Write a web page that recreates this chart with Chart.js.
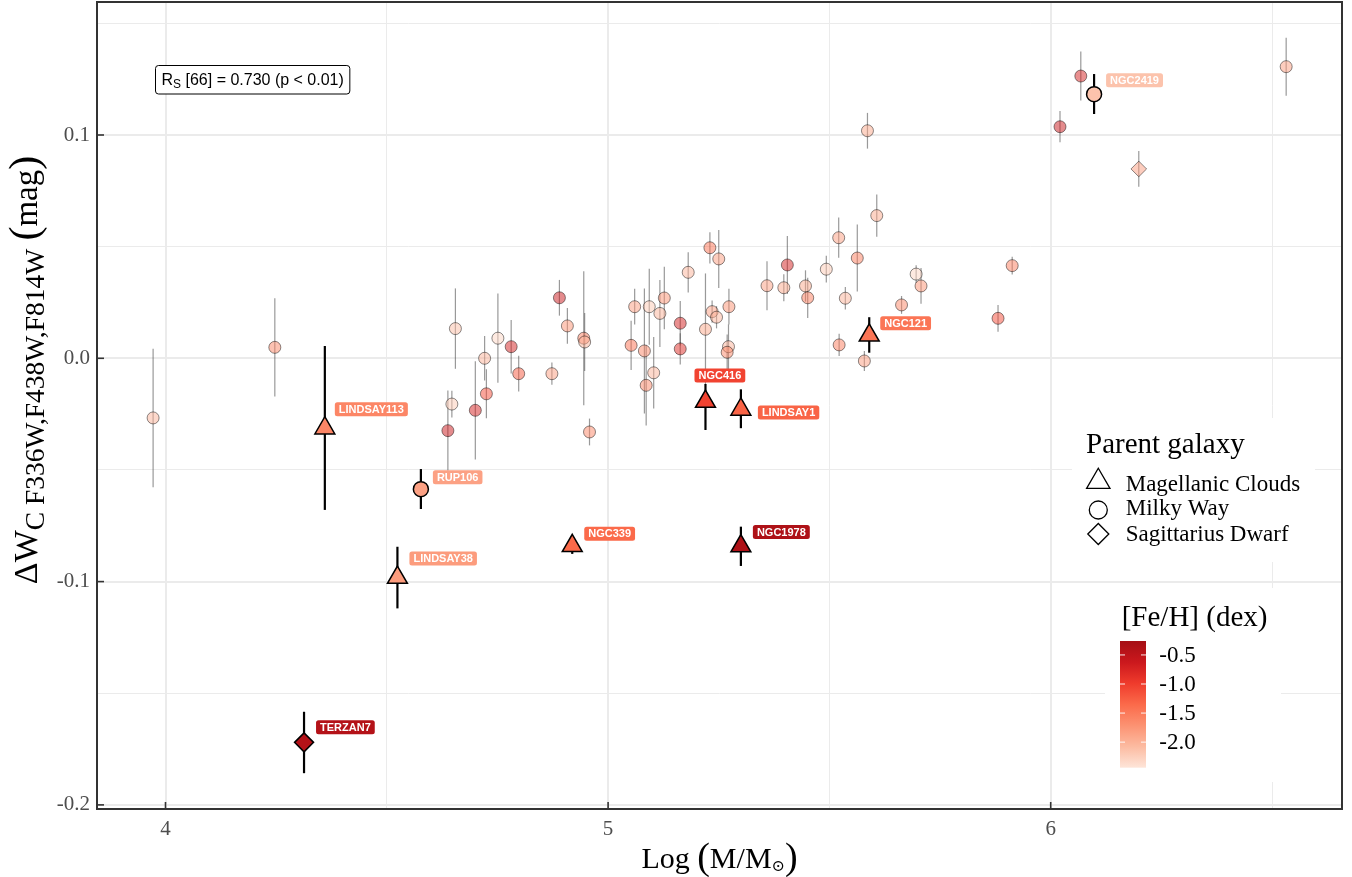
<!DOCTYPE html>
<html>
<head>
<meta charset="utf-8">
<script src="https://cdn.jsdelivr.net/npm/chart.js@4.4.1/dist/chart.umd.min.js"></script>
<style>
  html, body { margin: 0; padding: 0; background: #fff; }
  #wrap { width: 1352px; height: 877px; }
</style>
</head>
<body>
<div id="wrap"><canvas id="chart" width="1352" height="877"></canvas></div>
<script>
// Milky Way clusters (background points)
const mwMass = [3.972, 4.247, 4.655, 4.751, 4.781, 4.721, 4.798, 4.647, 4.638, 4.700,
                4.725, 4.873, 4.890, 4.908, 4.945, 4.947, 4.958, 5.052, 5.060, 5.082,
                5.086, 5.093, 5.103, 5.117, 5.127, 5.163, 5.163, 5.181, 5.220, 5.230,
                5.250, 5.235, 5.245, 5.273, 5.272, 5.269, 5.359, 5.397, 5.405, 5.446,
                5.451, 5.493, 5.521, 5.536, 5.563, 5.522, 5.579, 5.607, 5.586, 5.663,
                5.707, 5.696, 5.881, 5.913, 6.021, 6.068, 6.532];
const mwDW = [-0.0267, 0.0049, 0.0133, 0.0090, 0.0052, 0.0000, -0.0069, -0.0205, -0.0324, -0.0233,
              -0.0159, -0.0069, 0.0271, 0.0145, 0.0090, 0.0073, -0.0330, 0.0058, 0.0231, 0.0033,
              -0.0121, 0.0231, -0.0065, 0.0201, 0.0270, 0.0157, 0.0042, 0.0385, 0.0130, 0.0495,
              0.0445, 0.0209, 0.0184, 0.0231, 0.0052, 0.0027, 0.0325, 0.0316, 0.0418, 0.0324,
              0.0271, 0.0399, 0.0540, 0.0269, 0.0449, 0.0060, -0.0012, 0.0639, 0.1019, 0.0239,
              0.0324, 0.0377, 0.0179, 0.0415, 0.1037, 0.1264, 0.1306];
const mwErr = [0.031, 0.022, 0.018, 0.020, 0.012, 0.010, 0.008, 0.006, 0.018, 0.022,
               0.011, 0.005, 0.008, 0.008, 0.030, 0.013, 0.006, 0.011, 0.008, 0.028,
               0.018, 0.017, 0.016, 0.015, 0.014, 0.010, 0.007, 0.009, 0.025, 0.007,
               0.013, 0.005, 0.005, 0.008, 0.010, 0.008, 0.011, 0.006, 0.013, 0.007,
               0.009, 0.006, 0.009, 0.005, 0.015, 0.005, 0.0045, 0.0095, 0.008, 0.004,
               0.008, 0.004, 0.006, 0.004, 0.007, 0.011, 0.013];
const mwFeH = [-2.0, -1.6, -2.1, -2.3, -0.7, -2.0, -1.2, -2.2, -0.6, -0.7,
               -1.1, -1.8, -0.6, -1.7, -1.5, -2.0, -1.6, -1.4, -1.8, -1.6,
               -1.6, -2.2, -2.0, -2.0, -1.7, -0.7, -0.8, -2.0, -1.9, -1.4,
               -1.8, -1.8, -2.0, -1.7, -2.0, -1.6, -1.8, -1.9, -0.7, -1.9,
               -1.5, -2.2, -1.8, -2.0, -1.5, -1.5, -1.8, -1.9, -1.9, -1.6,
               -1.7, -2.3, -1.1, -1.5, -0.6, -0.7, -1.8];

// Sagittarius dwarf cluster (background)
const sgrMass = [6.199];
const sgrDW = [0.0848];
const sgrErr = [0.008];
const sgrFeH = [-1.8];

// labelled clusters
const hlNames = ['LINDSAY113', 'RUP106', 'LINDSAY38', 'TERZAN7', 'NGC339', 'NGC416', 'LINDSAY1', 'NGC1978', 'NGC121', 'NGC2419'];
const hlGalaxy = ['Magellanic Clouds', 'Milky Way', 'Magellanic Clouds', 'Sagittarius Dwarf', 'Magellanic Clouds',
                  'Magellanic Clouds', 'Magellanic Clouds', 'Magellanic Clouds', 'Magellanic Clouds', 'Milky Way'];
const hlMass = [4.360, 4.577, 4.524, 4.313, 4.919, 5.220, 5.300, 5.300, 5.590, 6.098];
const hlDW = [-0.0313, -0.0586, -0.0982, -0.1720, -0.0840, -0.0194, -0.0229, -0.0841, 0.0103, 0.1183];
const hlUpper = [0.0055, -0.0496, -0.0844, -0.1583, -0.0810, -0.0115, -0.0139, -0.0754, 0.0184, 0.1273];
const hlLower = [-0.0679, -0.0675, -0.1120, -0.1858, -0.0876, -0.0321, -0.0313, -0.0930, 0.0025, 0.1094];
const hlFeH = [-1.6, -1.85, -1.8, -0.4, -1.35, -1.05, -1.3, -0.35, -1.45, -2.15];

const galaxies = ['Magellanic Clouds', 'Milky Way', 'Sagittarius Dwarf'];
const feTicks = [-0.5, -1.0, -1.5, -2.0];
const feLimits = [-2.44, -0.26];

// ---- styling helpers ----
const SERIF = '"Liberation Serif", "DejaVu Serif", serif';
const SANS = '"Liberation Sans", Arial, sans-serif';
const REDS = [[254,229,217],[252,187,161],[252,146,114],[251,106,74],[239,59,44],[203,24,29],[165,15,21]];
const shapeOf = { 'Magellanic Clouds': 'triangle', 'Milky Way': 'circle', 'Sagittarius Dwarf': 'rectRot' };
const hlSize = { triangle: 11.5, circle: 7.5, rectRot: 9.5 };
const bgSize = { circle: 6, rectRot: 7.8 };
const labelOffsets = [[10,-19],[12,-12],[12,-19],[12,-15],[12,-12],[-11,-26],[17,3],[12,-14],[11,-12],[12,-14]];

function feColor(v, a) {
  let t = (v - feLimits[0]) / (feLimits[1] - feLimits[0]);
  t = Math.max(0, Math.min(1, t));
  const p = t * (REDS.length - 1);
  const i = Math.min(Math.floor(p), REDS.length - 2);
  const f = p - i;
  const c = REDS[i].map((c0, k) => Math.round(c0 + (REDS[i + 1][k] - c0) * f));
  return a === undefined ? `rgb(${c.join(',')})` : `rgba(${c.join(',')},${a})`;
}

const bgMass = mwMass.concat(sgrMass);
const bgDW = mwDW.concat(sgrDW);
const bgErr = mwErr.concat(sgrErr);
const bgFeH = mwFeH.concat(sgrFeH);
const bgShape = mwMass.map(() => 'circle').concat(sgrMass.map(() => 'rectRot'));
const hlShape = hlGalaxy.map(g => shapeOf[g]);

// error bars under the points
const errorBars = {
  id: 'errorBars',
  beforeDatasetsDraw(chart) {
    const { ctx, chartArea: a, scales: { x, y } } = chart;
    ctx.save();
    ctx.beginPath();
    ctx.rect(a.left, a.top, a.right - a.left, a.bottom - a.top);
    ctx.clip();
    ctx.strokeStyle = 'rgba(70,70,70,0.55)';
    ctx.lineWidth = 1.2;
    bgMass.forEach((m, i) => {
      const px = x.getPixelForValue(m);
      ctx.beginPath();
      ctx.moveTo(px, y.getPixelForValue(bgDW[i] + bgErr[i]));
      ctx.lineTo(px, y.getPixelForValue(bgDW[i] - bgErr[i]));
      ctx.stroke();
    });
    ctx.strokeStyle = '#000';
    ctx.lineWidth = 2.2;
    hlMass.forEach((m, i) => {
      const px = x.getPixelForValue(m);
      ctx.beginPath();
      ctx.moveTo(px, y.getPixelForValue(hlUpper[i]));
      ctx.lineTo(px, y.getPixelForValue(hlLower[i]));
      ctx.stroke();
    });
    ctx.restore();
  }
};

// name labels for highlighted clusters
const nameLabels = {
  id: 'nameLabels',
  afterDatasetsDraw(chart) {
    const { ctx, scales: { x, y } } = chart;
    ctx.save();
    ctx.font = 'bold 11px ' + SANS;
    ctx.textBaseline = 'middle';
    ctx.textAlign = 'left';
    hlNames.forEach((name, i) => {
      const px = x.getPixelForValue(hlMass[i]);
      const py = y.getPixelForValue(hlDW[i]);
      const w = ctx.measureText(name).width + 8;
      const h = 14;
      const left = px + labelOffsets[i][0];
      const cy = py + labelOffsets[i][1];
      ctx.fillStyle = feColor(hlFeH[i]);
      ctx.beginPath();
      ctx.roundRect(left, cy - h / 2, w, h, 2.5);
      ctx.fill();
      ctx.fillStyle = '#fff';
      ctx.fillText(name, left + 4, cy + 0.5);
    });
    ctx.restore();
  }
};

function drawParts(ctx, parts, cx, baseY) {
  let total = 0;
  const widths = parts.map(p => { ctx.font = p[1]; const w = ctx.measureText(p[0]).width; total += w; return w; });
  let cur = cx - total / 2;
  ctx.fillStyle = '#000';
  ctx.textAlign = 'left';
  ctx.textBaseline = 'alphabetic';
  parts.forEach((p, i) => {
    ctx.font = p[1];
    ctx.fillText(p[0], cur, baseY + p[2]);
    cur += widths[i];
  });
}

// panel border, inner ticks, legends, titles, annotation
const decorations = {
  id: 'decorations',
  afterDraw(chart) {
    const { ctx, chartArea: a, scales: { x, y } } = chart;
    ctx.save();

    // legend: parent galaxy
    ctx.fillStyle = '#fff';
    ctx.fillRect(1072, 418, 243, 144);
    ctx.fillRect(1105, 588, 176, 194);
    ctx.fillStyle = '#000';
    ctx.textAlign = 'left';
    ctx.textBaseline = 'alphabetic';
    ctx.font = '29px ' + SERIF;
    ctx.fillText('Parent galaxy', 1086, 453);
    const legY = [481.7, 510, 534];
    const legBase = [490.7, 515, 540.7];
    const legR = { triangle: 13.5, circle: 9, rectRot: 10.5 };
    ctx.font = '23px ' + SERIF;
    galaxies.forEach((g, i) => {
      ctx.fillStyle = '#fff';
      ctx.strokeStyle = '#000';
      ctx.lineWidth = 1.3;
      Chart.helpers.drawPoint(ctx, { pointStyle: shapeOf[g], radius: legR[shapeOf[g]], rotation: 0, borderWidth: 1.3 }, 1098.3, legY[i]);
      ctx.fillStyle = '#000';
      ctx.fillText(g, 1125.7, legBase[i]);
    });

    // legend: [Fe/H] colour bar
    ctx.font = '29px ' + SERIF;
    ctx.fillText('[Fe/H] (dex)', 1121.7, 625.7);
    const barL = 1120, barR = 1146, barT = 641, barB = 767.7;
    const grad = ctx.createLinearGradient(0, barB, 0, barT);
    REDS.forEach((c, k) => grad.addColorStop(k / (REDS.length - 1), `rgb(${c.join(',')})`));
    ctx.fillStyle = grad;
    ctx.fillRect(barL, barT, barR - barL, barB - barT);
    ctx.strokeStyle = 'rgba(255,255,255,0.9)';
    ctx.lineWidth = 1;
    ctx.font = '23px ' + SERIF;
    ctx.textBaseline = 'middle';
    feTicks.forEach(v => {
      const ty = barB - (v - feLimits[0]) / (feLimits[1] - feLimits[0]) * (barB - barT);
      ctx.beginPath();
      ctx.moveTo(barL, ty); ctx.lineTo(barL + 5, ty);
      ctx.moveTo(barR - 5, ty); ctx.lineTo(barR, ty);
      ctx.stroke();
      ctx.fillStyle = '#000';
      ctx.fillText(v.toFixed(1), 1159.3, ty + 1);
    });

    // correlation annotation
    ctx.textBaseline = 'alphabetic';
    ctx.font = '16px ' + SANS;
    const rest = ' [66] = 0.730 (p < 0.01)';
    const wR = ctx.measureText('R').width;
    const wRest = ctx.measureText(rest).width;
    ctx.font = '12px ' + SANS;
    const wS = ctx.measureText('S').width;
    const boxW = wR + wS + wRest + 12;
    ctx.fillStyle = '#fff';
    ctx.strokeStyle = '#000';
    ctx.lineWidth = 1;
    ctx.beginPath();
    ctx.roundRect(155.5, 65.5, boxW, 28.5, 3);
    ctx.fill();
    ctx.stroke();
    ctx.fillStyle = '#000';
    ctx.font = '16px ' + SANS;
    ctx.fillText('R', 161.5, 85);
    ctx.font = '12px ' + SANS;
    ctx.fillText('S', 161.5 + wR, 88);
    ctx.font = '16px ' + SANS;
    ctx.fillText(rest, 161.5 + wR + wS, 85);

    // x axis title: Log (M/M⊙)
    const xParts = [
      ['Log ', '30px ' + SERIF, 0],
      ['(', '38px ' + SERIF, 1],
      ['M/M', '30px ' + SERIF, 0],
      ['\u2299', '16px ' + SERIF, 3],
      [')', '38px ' + SERIF, 1]
    ];
    drawParts(ctx, xParts, (a.left + a.right) / 2, 868);

    // y axis title: ΔW_C F336W,F438W,F814W (mag)
    ctx.save();
    ctx.translate(37, 370);
    ctx.rotate(-Math.PI / 2);
    const yParts = [
      ['\u0394W', '34px ' + SERIF, 0],
      ['C F336W,F438W,F814W', '27.5px ' + SERIF, 7],
      [' ', '33px ' + SERIF, 0],
      ['(', '42px ' + SERIF, 1],
      ['mag', '33px ' + SERIF, 0],
      [')', '42px ' + SERIF, 1]
    ];
    drawParts(ctx, yParts, 0, 0);
    ctx.restore();

    // inner tick marks
    ctx.strokeStyle = '#333';
    ctx.lineWidth = 1.6;
    x.ticks.forEach(t => {
      if (Math.abs(t.value - Math.round(t.value)) > 1e-6) return;
      const px = x.getPixelForValue(t.value);
      ctx.beginPath(); ctx.moveTo(px, a.bottom); ctx.lineTo(px, a.bottom - 7); ctx.stroke();
    });
    y.ticks.forEach(t => {
      if (Math.abs(t.value * 10 - Math.round(t.value * 10)) > 1e-6) return;
      const py = y.getPixelForValue(t.value);
      ctx.beginPath(); ctx.moveTo(a.left, py); ctx.lineTo(a.left + 7, py); ctx.stroke();
    });

    // panel border
    ctx.lineWidth = 2;
    ctx.strokeRect(a.left, a.top, a.right - a.left, a.bottom - a.top);
    ctx.restore();
  }
};

const isMajorX = v => Math.abs(v - Math.round(v)) < 1e-6;
const isMajorY = v => Math.abs(v * 10 - Math.round(v * 10)) < 1e-6;

new Chart(document.getElementById('chart'), {
  type: 'scatter',
  data: {
    datasets: [
      {
        label: 'highlighted',
        data: hlMass.map((m, i) => ({ x: m, y: hlDW[i] })),
        pointStyle: hlShape,
        pointRadius: hlShape.map(s => hlSize[s]),
        backgroundColor: hlFeH.map(v => feColor(v)),
        borderColor: '#000',
        borderWidth: 1.5,
        order: 0
      },
      {
        label: 'clusters',
        data: bgMass.map((m, i) => ({ x: m, y: bgDW[i] })),
        pointStyle: bgShape,
        pointRadius: bgShape.map(s => bgSize[s]),
        backgroundColor: bgFeH.map(v => feColor(v, 0.5)),
        borderColor: 'rgba(0,0,0,0.45)',
        borderWidth: 1,
        order: 1
      }
    ]
  },
  options: {
    responsive: false,
    animation: false,
    devicePixelRatio: 1,
    layout: { autoPadding: false, padding: { top: 2, right: 10, left: 0, bottom: 0 } },
    plugins: { legend: { display: false }, tooltip: { enabled: false } },
    scales: {
      x: {
        type: 'linear',
        min: 3.84523,
        max: 6.65815,
        afterFit: s => { s.height = 68; s.paddingLeft = 0; s.paddingRight = 0; },
        border: { display: false },
        grid: {
          color: '#ebebeb',
          lineWidth: c => (c.tick && isMajorX(c.tick.value)) ? 2 : 1,
          drawTicks: false
        },
        ticks: {
          stepSize: 0.5,
          includeBounds: false,
          autoSkip: false,
          maxRotation: 0,
          padding: 8,
          color: '#4d4d4d',
          font: { family: SERIF, size: 21 },
          callback: v => isMajorX(v) ? String(Math.round(v)) : ''
        }
      },
      y: {
        type: 'linear',
        min: -0.20184,
        max: 0.15956,
        afterFit: s => { s.width = 97; s.paddingTop = 0; s.paddingBottom = 0; },
        border: { display: false },
        grid: {
          color: '#ebebeb',
          lineWidth: c => (c.tick && isMajorY(c.tick.value)) ? 2 : 1,
          drawTicks: false
        },
        ticks: {
          stepSize: 0.05,
          includeBounds: false,
          autoSkip: false,
          padding: 7,
          color: '#4d4d4d',
          font: { family: SERIF, size: 21 },
          callback: v => isMajorY(v) ? (Math.round(v * 10) / 10).toFixed(1) : ''
        }
      }
    }
  },
  plugins: [errorBars, nameLabels, decorations]
});
</script>
</body>
</html>
